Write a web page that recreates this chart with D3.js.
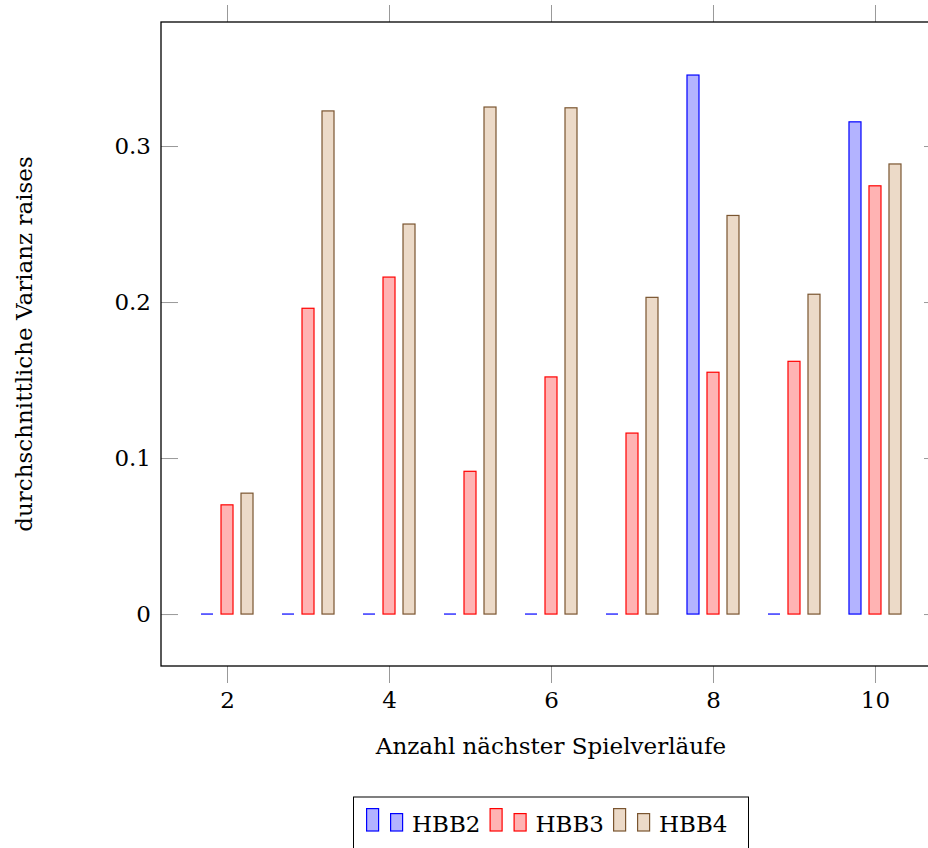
<!DOCTYPE html>
<meta charset="utf-8">
<style>
  body { margin: 0; background: #fff; }
  svg { display: block; font-family: "DejaVu Serif", serif; }
  text { fill: #000; }
  .axis path { display: none; }
  .axis line { stroke: #999; stroke-width: 1; }
  .frame { fill: none; stroke: #000; stroke-width: 1.3; }
</style>
<body>
<script src="https://cdn.jsdelivr.net/npm/d3@7"></script>
<script>

  // data
  var categories = [2, 3, 4, 5, 6, 7, 8, 9, 10];
  var hbb2 = [0, 0, 0, 0, 0, 0, 0.3455, 0, 0.3155];
  var hbb3 = [0.0700, 0.1960, 0.2160, 0.0915, 0.1520, 0.1160, 0.1550, 0.1620, 0.2745];
  var hbb4 = [0.0775, 0.3225, 0.2500, 0.3250, 0.3245, 0.2030, 0.2555, 0.2050, 0.2885];
  var seriesNames = ["HBB2", "HBB3", "HBB4"];
  var xTicks = [2, 4, 6, 8, 10];
  var yTicks = [0, 0.1, 0.2, 0.3];

  var colors = [
    {fill: "#b3b3ff", stroke: "#0000ff"},
    {fill: "#ffb3b3", stroke: "#ff0000"},
    {fill: "#ecdac8", stroke: "#7a5530"}
  ];

  var W = 928, H = 848;
  var box = {left: 161, right: 941, top: 22, bottom: 666};
  var barW = 12, barGap = 20, tickLen = 17;
  var fontSize = 23;

  var x = d3.scaleLinear().domain([1.185, 10.815]).range([box.left, box.right]);
  var y = d3.scaleLinear().domain([-0.0333, 0.3795]).range([box.bottom, box.top]);

  var svg = d3.select("body").append("svg")
      .attr("width", W)
      .attr("height", H)
      .style("font-size", fontSize + "px");

  function plainFont(g) {
    g.attr("font-family", null).attr("font-size", null);
  }

  // ticks
  svg.append("g")
      .attr("class", "axis")
      .attr("transform", "translate(0," + box.bottom + ")")
      .call(d3.axisBottom(x).tickValues(xTicks).tickSizeInner(tickLen).tickSizeOuter(0).tickPadding(9))
      .call(plainFont);

  svg.append("g")
      .attr("class", "axis")
      .attr("transform", "translate(0," + box.top + ")")
      .call(d3.axisTop(x).tickValues(xTicks).tickSizeInner(tickLen).tickSizeOuter(0).tickFormat(""));

  svg.append("g")
      .attr("class", "axis")
      .attr("transform", "translate(" + box.left + ",0)")
      .call(d3.axisLeft(y).tickValues(yTicks).tickSizeInner(-tickLen).tickSizeOuter(0).tickPadding(10)
        .tickFormat(function(d) { return d === 0 ? "0" : d3.format(".1f")(d); }))
      .call(plainFont);

  svg.append("g")
      .attr("class", "axis")
      .attr("transform", "translate(" + box.right + ",0)")
      .call(d3.axisRight(y).tickValues(yTicks).tickSizeInner(-tickLen).tickSizeOuter(0).tickFormat(""));

  // bars
  var series = [hbb2, hbb3, hbb4];
  series.forEach(function(vals, s) {
    var off = (s - 1) * barGap;
    var rows = vals.map(function(v, i) { return {c: categories[i], v: v}; });
    var g = svg.append("g");
    g.selectAll("rect")
      .data(rows.filter(function(d) { return d.v > 0; }))
      .join("rect")
        .attr("x", function(d) { return x(d.c) + off - barW / 2; })
        .attr("y", function(d) { return y(d.v); })
        .attr("width", barW)
        .attr("height", function(d) { return y(0) - y(d.v); })
        .attr("fill", colors[s].fill)
        .attr("stroke", colors[s].stroke)
        .attr("stroke-width", 1.2);
    g.selectAll("line")
      .data(rows.filter(function(d) { return d.v === 0; }))
      .join("line")
        .attr("x1", function(d) { return x(d.c) + off - barW / 2; })
        .attr("x2", function(d) { return x(d.c) + off + barW / 2; })
        .attr("y1", y(0))
        .attr("y2", y(0))
        .attr("stroke", colors[s].stroke)
        .attr("stroke-width", 1.2);
  });

  // frame
  svg.append("rect")
      .attr("class", "frame")
      .attr("x", box.left)
      .attr("y", box.top)
      .attr("width", box.right - box.left)
      .attr("height", box.bottom - box.top);

  // axis labels
  svg.append("text")
      .attr("x", (box.left + box.right) / 2)
      .attr("y", 754)
      .attr("text-anchor", "middle")
      .text("Anzahl nächster Spielverläufe");

  svg.append("text")
      .attr("transform", "translate(32," + (box.top + box.bottom) / 2 + ") rotate(-90)")
      .attr("text-anchor", "middle")
      .text("durchschnittliche Varianz raises");

  // legend
  var legend = svg.append("g");
  var legendBox = legend.append("rect")
      .attr("fill", "#fff")
      .attr("stroke", "#000")
      .attr("stroke-width", 1);
  var lx = 366, base = 832;
  seriesNames.forEach(function(name, s) {
    legend.append("rect")
        .attr("x", lx + 0.6).attr("y", 808.6).attr("width", 12).attr("height", 22.4)
        .attr("fill", colors[s].fill).attr("stroke", colors[s].stroke).attr("stroke-width", 1.2);
    legend.append("rect")
        .attr("x", lx + 24.6).attr("y", 813.6).attr("width", 12).attr("height", 17.4)
        .attr("fill", colors[s].fill).attr("stroke", colors[s].stroke).attr("stroke-width", 1.2);
    var t = legend.append("text")
        .attr("x", lx + 46)
        .attr("y", base)
        .text(name);
    lx = lx + 46 + t.node().getComputedTextLength() + 9;
  });
  legendBox
      .attr("x", 353.5)
      .attr("y", 797)
      .attr("width", lx - 9 + 21 - 353.5)
      .attr("height", 56);

</script>
</body>
